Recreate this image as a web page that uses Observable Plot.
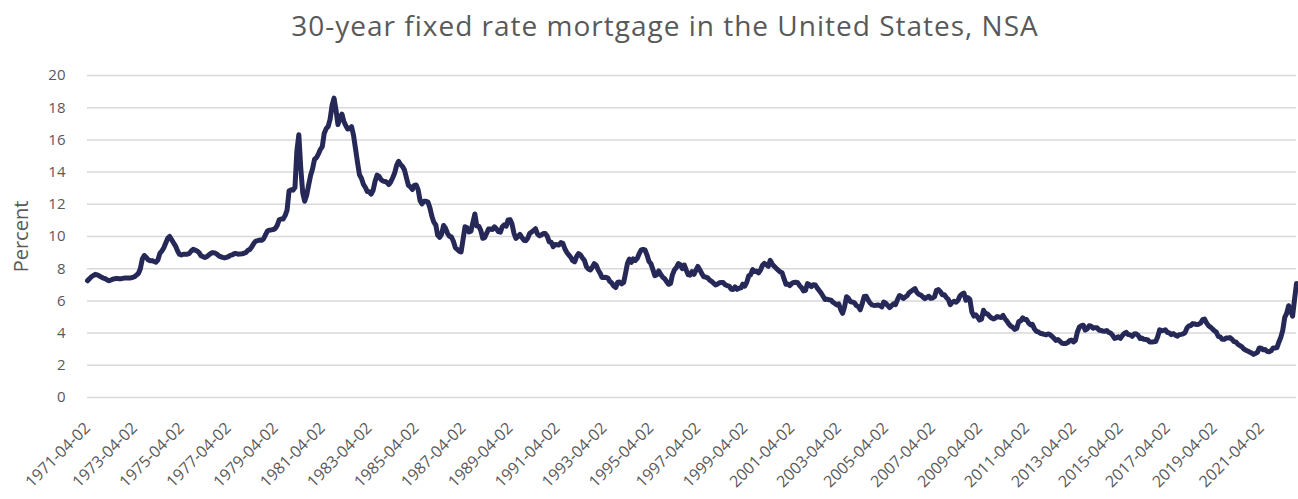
<!DOCTYPE html>
<html>
<head>
<meta charset="utf-8">
<script src="https://cdn.jsdelivr.net/npm/d3@7"></script>
<script src="https://cdn.jsdelivr.net/npm/@observablehq/plot@0.6"></script>
<style>
  html, body { margin: 0; padding: 0; background: #fff; }
  #wrap { width: 1298px; height: 499px; overflow: hidden; }
  #title { height: 50px; width: 1298px; box-sizing: border-box; padding-left: 32px; text-align: center;
           font-family: "Open Sans", sans-serif; font-size: 28px; letter-spacing: 1px; color: #595959;
           line-height: 50px; padding-top: 0px; }
</style>
</head>
<body>
<div id="wrap">
  <div id="title"></div>
  <div id="chart"></div>
</div>
<script>
const titleText = "30-year fixed rate mortgage in the United States, NSA";
const yLabel = "Percent";
const firstMonth = "1971-04-02";
const yTicks = [0, 2, 4, 6, 8, 10, 12, 14, 16, 18, 20];
const xTickLabels = ["1971-04-02","1973-04-02","1975-04-02","1977-04-02","1979-04-02","1981-04-02","1983-04-02",
  "1985-04-02","1987-04-02","1989-04-02","1991-04-02","1993-04-02","1995-04-02","1997-04-02","1999-04-02",
  "2001-04-02","2003-04-02","2005-04-02","2007-04-02","2009-04-02","2011-04-02","2013-04-02","2015-04-02",
  "2017-04-02","2019-04-02","2021-04-02"];
// monthly rates, percent, from April 1971
const rates = [
  7.25, 7.38, 7.5, 7.58, 7.65, 7.62, 7.55, 7.48, 7.42,
  7.38, 7.3, 7.25, 7.3, 7.35, 7.38, 7.4, 7.38, 7.38, 7.4, 7.42, 7.42,
  7.43, 7.43, 7.45, 7.5, 7.6, 7.7, 8.0, 8.6, 8.82, 8.7, 8.55, 8.5,
  8.5, 8.45, 8.4, 8.55, 8.95, 9.1, 9.3, 9.6, 9.9, 10.0, 9.8, 9.6,
  9.4, 9.1, 8.9, 8.85, 8.9, 8.9, 8.9, 8.95, 9.1, 9.2, 9.15, 9.1,
  9.0, 8.8, 8.75, 8.7, 8.75, 8.85, 8.95, 9.0, 8.98, 8.92, 8.8, 8.75,
  8.7, 8.67, 8.7, 8.75, 8.83, 8.86, 8.94, 8.94, 8.9, 8.92, 8.93, 8.96,
  9.01, 9.15, 9.2, 9.36, 9.57, 9.71, 9.74, 9.78, 9.76, 9.86, 10.11, 10.35,
  10.39, 10.41, 10.43, 10.5, 10.69, 11.04, 11.09, 11.09, 11.3, 11.64, 12.83, 12.9,
  12.88, 13.04, 15.28, 16.32, 14.26, 12.71, 12.19, 12.56, 13.2, 13.79, 14.21, 14.79,
  14.9, 15.13, 15.4, 15.58, 16.4, 16.7, 16.83, 17.29, 18.16, 18.6, 17.83, 16.95,
  17.4, 17.6, 17.16, 16.89, 16.68, 16.7, 16.82, 16.27, 15.43, 14.61, 13.83, 13.62,
  13.25, 13.04, 12.8, 12.78, 12.63, 12.87, 13.42, 13.81, 13.73, 13.54, 13.44, 13.42,
  13.37, 13.23, 13.39, 13.65, 13.94, 14.42, 14.67, 14.47, 14.35, 14.13, 13.64, 13.18,
  13.08, 12.92, 13.17, 13.2, 12.91, 12.22, 12.03, 12.19, 12.19, 12.14, 11.78, 11.26,
  10.88, 10.71, 10.08, 9.94, 10.14, 10.68, 10.51, 10.2, 10.01, 9.97, 9.7, 9.31,
  9.2, 9.08, 9.04, 9.83, 10.6, 10.54, 10.28, 10.33, 10.89, 11.4, 10.65, 10.64,
  10.38, 9.89, 9.93, 10.2, 10.46, 10.46, 10.43, 10.6, 10.48, 10.3, 10.27, 10.61,
  10.73, 10.65, 11.03, 11.05, 10.77, 10.2, 9.88, 9.99, 10.13, 9.95, 9.77, 9.74,
  9.9, 10.2, 10.27, 10.37, 10.48, 10.16, 10.04, 10.1, 10.18, 10.18, 10.01, 9.67,
  9.64, 9.37, 9.5, 9.49, 9.47, 9.62, 9.58, 9.24, 9.01, 8.86, 8.71, 8.5,
  8.43, 8.76, 8.94, 8.85, 8.67, 8.51, 8.13, 7.98, 7.92, 8.09, 8.31, 8.22,
  7.92, 7.71, 7.46, 7.46, 7.47, 7.42, 7.21, 7.11, 6.92, 6.83, 7.16, 7.17,
  7.06, 7.15, 7.68, 8.32, 8.6, 8.4, 8.61, 8.51, 8.64, 8.93, 9.17, 9.2,
  9.15, 8.83, 8.46, 8.32, 7.96, 7.57, 7.61, 7.86, 7.64, 7.48, 7.38, 7.2,
  7.03, 7.08, 7.62, 7.93, 8.07, 8.32, 8.25, 8.0, 8.23, 7.92, 7.62, 7.6,
  7.82, 7.65, 7.9, 8.14, 7.94, 7.69, 7.5, 7.48, 7.43, 7.29, 7.21, 7.1,
  6.99, 7.04, 7.13, 7.14, 7.14, 7.0, 6.95, 6.92, 6.72, 6.71, 6.87, 6.72,
  6.79, 6.81, 7.04, 6.92, 7.15, 7.55, 7.63, 7.94, 7.82, 7.85, 7.74, 7.91,
  8.21, 8.33, 8.24, 8.15, 8.52, 8.29, 8.15, 8.03, 7.91, 7.8, 7.75, 7.38,
  7.03, 7.05, 6.95, 7.08, 7.15, 7.16, 7.13, 6.95, 6.82, 6.62, 6.66, 7.07,
  7.0, 6.89, 7.01, 6.99, 6.81, 6.65, 6.49, 6.29, 6.09, 6.11, 6.07, 6.05,
  5.92, 5.84, 5.75, 5.81, 5.48, 5.23, 5.63, 6.26, 6.15, 5.95, 5.93, 5.88,
  5.71, 5.64, 5.45, 5.83, 6.27, 6.29, 6.06, 5.87, 5.75, 5.72, 5.73, 5.75,
  5.71, 5.63, 5.93, 5.86, 5.72, 5.58, 5.7, 5.82, 5.77, 6.07, 6.33, 6.27,
  6.15, 6.25, 6.32, 6.51, 6.6, 6.68, 6.76, 6.52, 6.4, 6.36, 6.24, 6.14,
  6.22, 6.29, 6.16, 6.18, 6.26, 6.66, 6.7, 6.57, 6.38, 6.38, 6.21, 6.1,
  5.76, 5.92, 5.97, 5.92, 6.04, 6.32, 6.43, 6.48, 6.04, 6.2, 6.09, 5.33,
  5.06, 5.13, 5.0, 4.81, 4.86, 5.42, 5.22, 5.19, 5.06, 4.95, 4.88, 4.93,
  5.03, 4.99, 4.97, 5.1, 4.89, 4.74, 4.56, 4.43, 4.35, 4.23, 4.3, 4.71,
  4.76, 4.95, 4.84, 4.84, 4.64, 4.51, 4.55, 4.27, 4.11, 4.07, 3.99, 3.96,
  3.92, 3.89, 3.95, 3.91, 3.8, 3.68, 3.55, 3.6, 3.5, 3.38, 3.35, 3.35,
  3.41, 3.53, 3.57, 3.45, 3.54, 4.07, 4.37, 4.46, 4.49, 4.19, 4.26, 4.46,
  4.43, 4.3, 4.34, 4.34, 4.19, 4.16, 4.13, 4.12, 4.16, 4.04, 4.0, 3.86,
  3.67, 3.71, 3.77, 3.67, 3.84, 3.98, 4.05, 3.91, 3.89, 3.8, 3.94, 3.96,
  3.87, 3.66, 3.69, 3.61, 3.6, 3.57, 3.44, 3.44, 3.46, 3.47, 3.77, 4.2,
  4.15, 4.17, 4.2, 4.05, 4.01, 3.9, 3.97, 3.88, 3.81, 3.9, 3.92, 3.95,
  4.03, 4.33, 4.44, 4.47, 4.59, 4.57, 4.53, 4.55, 4.63, 4.83, 4.87, 4.64,
  4.46, 4.37, 4.27, 4.14, 4.07, 3.8, 3.77, 3.62, 3.61, 3.69, 3.7, 3.72,
  3.62, 3.47, 3.45, 3.31, 3.23, 3.16, 3.02, 2.94, 2.89, 2.83, 2.77, 2.68,
  2.74, 2.81, 3.08, 3.06, 2.96, 2.98, 2.87, 2.84, 2.9, 3.07, 3.07, 3.1,
  3.45, 3.76, 4.17, 4.98, 5.23, 5.7, 5.41, 5.05, 6.11, 7.08
];

document.getElementById("title").textContent = titleText;

const start = d3.utcParse("%Y-%m-%d")(firstMonth);
const data = rates.map((v, i) => ({date: d3.utcMonth.offset(start, i), rate: v}));
const tickDates = xTickLabels.map(d3.utcParse("%Y-%m-%d"));
const fmt = d3.utcFormat("%Y-%m-%d");

const chart = Plot.plot({
  width: 1298,
  height: 449,
  marginTop: 25,
  marginBottom: 102,
  marginLeft: 87,
  marginRight: 2,
  style: {fontFamily: "Open Sans, sans-serif", fontSize: "15px", color: "#595959", background: "#fff"},
  x: {type: "utc", domain: d3.extent(data, d => d.date)},
  y: {domain: [0, 20]},
  marks: [
    Plot.gridY(yTicks, {stroke: "#d9d9d9", strokeOpacity: 1, strokeWidth: 1.5}),
    Plot.axisY({ticks: yTicks, tickSize: 0, tickPadding: 22, label: yLabel, labelAnchor: "center",
                labelArrow: "none", labelOffset: 74, fontSize: 15}),
    Plot.axisX({ticks: tickDates, tickFormat: fmt, tickRotate: -45, tickSize: 0, tickPadding: 28,
                label: null, fontSize: 16}),
    Plot.lineY(data, {x: "date", y: "rate", stroke: "#262957", strokeWidth: 5,
                      strokeLinejoin: "round", strokeLinecap: "round"})
  ]
});
document.getElementById("chart").appendChild(chart);
// larger font for the y label
chart.querySelectorAll("[aria-label='y-axis label'] text").forEach(t => t.style.fontSize = "20px");
</script>
</body>
</html>
